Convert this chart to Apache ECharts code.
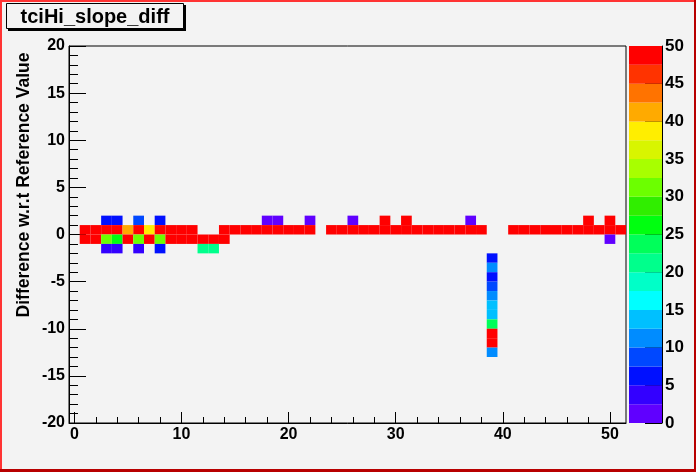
<!DOCTYPE html>
<html>
<head>
<meta charset="utf-8">
<script src="https://cdn.jsdelivr.net/npm/echarts@6/dist/echarts.min.js"></script>
<style>
html,body{margin:0;padding:0;background:#f3f3f3;}
#chart{width:696px;height:472px;}
</style>
</head>
<body>
<div id="chart"></div>
<script>
// ---- data (x bin centre, value) per y-bin (y bin lower edge) ----
const row1 = [[3,6],[4,6],[6,9],[8,6],[18,1],[19,1],[22,1],[26,1],[29,50],[31,50],[37,1],[48,50],[50,50]];        // y in [1,2]
const row0 = [[1,50],[2,50],[3,50],[4,50],[5,42],[6,50],[7,38],[8,50],[9,50],[10,50],[11,50],
              [14,50],[15,50],[16,50],[17,50],[18,50],[19,50],[20,50],[21,50],[22,50],
              [24,50],[25,50],[26,50],[27,50],[28,50],[29,50],[30,50],[31,50],[32,50],[33,50],[34,50],[35,50],[36,50],[37,50],[38,50],
              [41,50],[42,50],[43,50],[44,50],[45,50],[46,50],[47,50],[48,50],[49,50],[50,50],[51,50]];            // y in [0,1]
const rowM1 = [[1,50],[2,50],[3,31],[4,27],[5,50],[6,31],[7,50],[8,31],[9,50],[10,50],[11,50],[12,50],[13,50],[14,50],[50,1]]; // y in [-1,0]
const rowM2 = [[3,4],[4,4],[6,4],[8,6],[12,21],[13,21]];                                                              // y in [-2,-1]
const col39x = 39;
const col39 = [[-3,6],[-4,11],[-5,6],[-6,9],[-7,11],[-8,14],[-9,14],[-10,23],[-11,50],[-12,50],[-13,11]];         // [y lower edge, value]

// ---- axes / palette ----
const xMajor = [0,10,20,30,40,50];
const xMinor = [0,2,4,6,8,10,12,14,16,18,20,22,24,26,28,30,32,34,36,38,40,42,44,46,48,50];
const zLevels = [0,2.5,5,7.5,10,12.5,15,17.5,20,22.5,25,27.5,30,32.5,35,37.5,40,42.5,45,47.5,50];
const palette = ['#6000ff','#3300ff','#0010ff','#0048ff','#008cff','#00c0ff','#00ffff','#00ffc8','#00ff8c','#00ff5a',
                 '#00ff10','#30ee00','#6cff00','#a8ff00','#d8f500','#ffee00','#ffaa00','#ff7300','#ff3300','#ff0000'];

function colorFor(v){
  let i = Math.floor(v / 2.5);
  if (i > 19) i = 19; if (i < 0) i = 0;
  return palette[i];
}

const cells = [];
row1.forEach(d => cells.push([d[0], 1, d[1]]));
row0.forEach(d => cells.push([d[0], 0, d[1]]));
rowM1.forEach(d => cells.push([d[0], -1, d[1]]));
rowM2.forEach(d => cells.push([d[0], -2, d[1]]));
col39.forEach(d => cells.push([col39x, d[0], d[1]]));

const barData = [];
for (let i = 0; i < palette.length; i++) barData.push([zLevels[i], zLevels[i+1], i]);

const FONT = "'Liberation Sans', Arial, Helvetica, sans-serif";
const chart = echarts.init(document.getElementById('chart'), null, {renderer:'canvas'});

chart.setOption({
  backgroundColor:'#f3f3f3',
  animation:false,
  grid:[
    {left:69, top:46, width:557, height:377, show:true, borderColor:'#000', borderWidth:1, backgroundColor:'#f3f3f3', containLabel:false},
    {left:629, top:46, width:33, height:377, show:false}
  ],
  xAxis:[
    {type:'value', gridIndex:0, min:-0.5, max:51.5, position:'bottom',
     axisLine:{show:true, onZero:false, lineStyle:{color:'#000', width:1}},
     axisTick:{show:true, inside:true, length:11, customValues:xMajor, lineStyle:{color:'#000'}},
     axisLabel:{show:true, customValues:xMajor, color:'#000', fontFamily:FONT, fontWeight:'bold', fontSize:16, margin:4},
     splitLine:{show:false}},
    {type:'value', gridIndex:0, min:-0.5, max:51.5, position:'bottom', offset:0,
     axisLine:{show:false, onZero:false},
     axisTick:{show:true, inside:true, length:6, customValues:xMinor, lineStyle:{color:'#000'}},
     axisLabel:{show:false}, splitLine:{show:false}},
    {type:'value', gridIndex:1, min:0, max:1, show:false}
  ],
  yAxis:[
    {type:'value', gridIndex:0, min:-20, max:20, interval:5, position:'left',
     axisLine:{show:true, onZero:false, lineStyle:{color:'#000', width:1}},
     axisTick:{show:true, inside:true, length:17, lineStyle:{color:'#000'}},
     minorTick:{show:true, splitNumber:5, length:9, lineStyle:{color:'#000'}},
     axisLabel:{color:'#000', fontFamily:FONT, fontWeight:'bold', fontSize:16, margin:4, padding:[4,0,0,0]},
     splitLine:{show:false}, minorSplitLine:{show:false}},
    {type:'value', gridIndex:1, min:0, max:50, interval:5, position:'right',
     axisLine:{show:true, onZero:false, lineStyle:{color:'#000', width:1}},
     axisTick:{show:true, inside:true, length:17, lineStyle:{color:'#000'}},
     axisLabel:{color:'#000', fontFamily:FONT, fontWeight:'bold', fontSize:17, margin:3, padding:[4,0,0,0]},
     splitLine:{show:false}}
  ],
  series:[
    {type:'custom', xAxisIndex:0, yAxisIndex:0, data:cells, z:2,
     renderItem:function(params, api){
       const x = api.value(0), y = api.value(1), v = api.value(2);
       const p0 = api.coord([x - 0.5, y + 1]);
       const p1 = api.coord([x + 0.5, y]);
       return {type:'rect', shape:{x:p0[0], y:p0[1], width:p1[0]-p0[0], height:p1[1]-p0[1]},
               style:{fill:colorFor(v), stroke:null}};
     }},
    {type:'custom', xAxisIndex:2, yAxisIndex:1, data:barData, z:2,
     renderItem:function(params, api){
       const lo = api.value(0), hi = api.value(1), ci = api.value(2);
       const p0 = api.coord([0, hi]);
       const p1 = api.coord([1, lo]);
       return {type:'rect', shape:{x:p0[0], y:p0[1], width:p1[0]-p0[0], height:p1[1]-p0[1]},
               style:{fill:palette[ci], stroke:null}};
     }}
  ],
  graphic:[
    // canvas bevel border
    {type:'rect', shape:{x:0, y:0, width:696, height:2}, style:{fill:'#ff3333'}, z:100},
    {type:'rect', shape:{x:0, y:0, width:2, height:472}, style:{fill:'#ff3333'}, z:100},
    {type:'rect', shape:{x:694, y:0, width:2, height:472}, style:{fill:'#b80000'}, z:100},
    {type:'rect', shape:{x:0, y:469, width:696, height:3}, style:{fill:'#b80000'}, z:100},
    // title box with shadow
    {type:'rect', shape:{x:8, y:5, width:178, height:26}, style:{fill:'#000'}, z:100},
    {type:'rect', shape:{x:6.5, y:3.5, width:177, height:25}, style:{fill:'#f3f3f3', stroke:'#000', lineWidth:1}, z:101},
    {type:'text', x:95, y:17, z:102,
     style:{text:'tciHi_slope_diff', fill:'#000', font:"bold 20px 'Liberation Sans', Arial, sans-serif", textAlign:'center', textVerticalAlign:'middle'}},
    // y axis title
    {type:'text', x:24, y:185, rotation:Math.PI/2, z:102,
     style:{text:'Difference w.r.t Reference Value', fill:'#000', font:"bold 17.5px 'Liberation Sans', Arial, sans-serif", textAlign:'center', textVerticalAlign:'middle'}}
  ]
});
</script>
</body>
</html>
